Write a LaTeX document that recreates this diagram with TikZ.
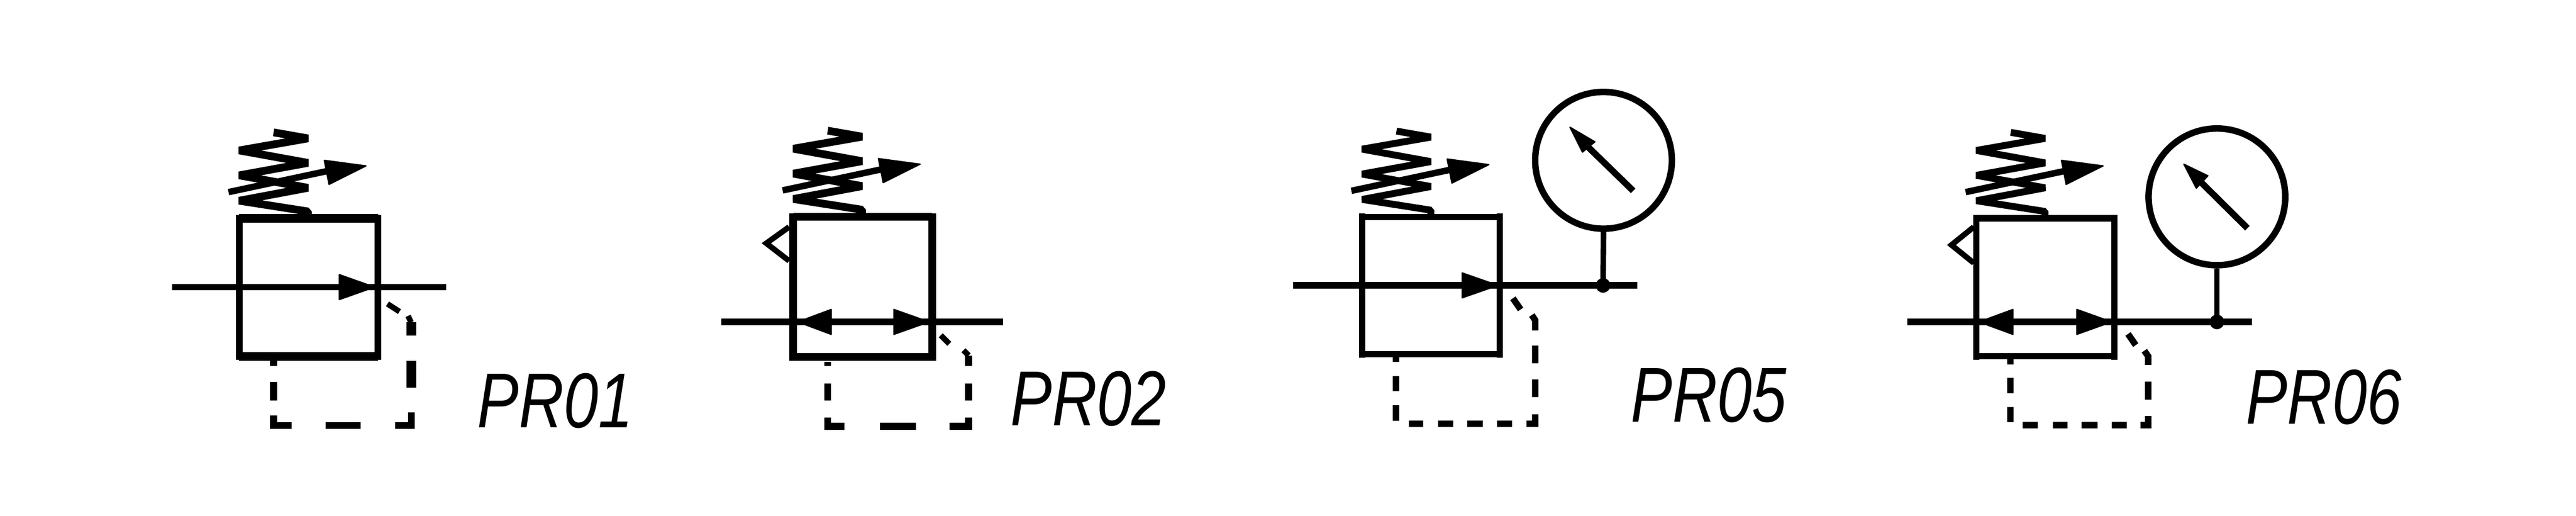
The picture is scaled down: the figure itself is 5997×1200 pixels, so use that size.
\documentclass[tikz,border=0pt]{standalone}
\usepackage{fontspec}
\setmainfont{Liberation Sans}
\usepackage{xcolor}
\newcommand{\valve}[6]{\draw[line width=#5] (#1,#2-8)--(#1,#4+8);\draw[line width=#5] (#3,#2-8)--(#3,#4+8);\draw[line width=#6] (#1,#2)--(#3,#2);\draw[line width=#6] (#1,#4)--(#3,#4);}
\newcommand{\sprg}[3]{\begin{scope}[shift={(#1,#2)}]
\draw[line width=#3,line join=bevel] (80,-200)--(160,-186)--(0,-158)--(160,-129)--(0,-100)--(160,-71)--(0,-41)--(160,-16)--(160,0);
\draw[line width=0.15cm] (-25,-61)--(205,-110);
\fill[hd] (295,-122)--(198,-135)--(209,-79)--cycle;
\end{scope}}
\newcommand{\tip}[3]{\fill[hd] (#1,#3)--(#2,#3-29)--(#2,#3+29)--cycle;}
\tikzset{
  hd/.style={draw=black,line width=0.03cm,line join=round},
  pipe/.style={line width=0.15cm},
  dline/.style={line width=0.16cm,line join=miter},
  dthin/.style={line width=0.15cm,line join=miter},
  gauge/.style={circle,draw,line width=0.15cm,minimum size=3.18cm,inner sep=0pt},
  lbl/.style={anchor=base west,inner sep=0pt,xscale=0.8,font=\fontsize{51.5}{60}\selectfont\itshape}
}

\begin{document}
\begin{tikzpicture}[x=0.01cm,y=-0.01cm]
\useasboundingbox (0,0) rectangle (5997,1200);

% PR01
\valve{557}{508}{880}{829}{0.16cm}{0.2cm}
\sprg{557}{508}{0.18cm}
\coordinate (inA) at (400,668);
\coordinate (outA) at (1039,668);
\draw[pipe] (inA)--(outA);
\tip{872}{790}{668}
\draw[dline] (637,837)--(637,852) (637,889)--(637,932) (637,967)--(637,990)--(679,990) (758,990)--(840,990) (920,990)--(958,990)--(958,960);
\draw[line width=0.23cm] (958,902)--(958,839) (958,781)--(958,750);
\draw[line width=0.13cm] (957,750)--(950,735) (902,707)--(930,725);
\node[lbl] (lblA) at (1111,995) {PR01};

% PR02
\valve{1847}{504}{2170}{831}{0.18cm}{0.18cm}
\sprg{1847}{504}{0.18cm}
\coordinate (inB) at (1679,749);
\coordinate (outB) at (2335,749);
\draw[pipe] (inB)--(outB);
\tip{1857}{1935}{749}
\tip{2163}{2081}{749}
\draw[line width=0.13cm] (1837,528)--(1784,566)--(1837,607);
\draw[dline] (1927,842)--(1927,851) (1927,892)--(1927,932) (1927,971)--(1927,992)--(1966,992) (2048,992)--(2132,992) (2211,992)--(2255,992)--(2255,971) (2255,932)--(2255,892) (2255,851)--(2255,827);
\draw[line width=0.13cm] (2255,827)--(2243,815) (2190,780)--(2210,800);
\node[lbl] (lblB) at (2352,990) {PR02};

% PR05
\valve{3171}{505}{3491}{824}{0.14cm}{0.15cm}
\sprg{3171}{505}{0.16cm}
\coordinate (inC) at (3010,664);
\coordinate (outC) at (3812,664);
\coordinate (jC) at (3732,664);
\draw[pipe] (inC)--(outC);
\tip{3487}{3404}{664}
\node[gauge] (gC) at (3733,373) {};
\draw[line width=0.13cm] (gC.south)--(jC);
\fill (jC) circle (17);
\draw[pipe] (3802,444)--(3695,340);
\fill[hd] (3655,296)--(3713,330)--(3684,354)--cycle;
\draw[dthin] (3250,831)--(3250,842) (3250,875)--(3250,910) (3250,943)--(3250,979) (3280,986)--(3313,986) (3348,986)--(3383,986) (3416,986)--(3452,986) (3485,986)--(3520,986) (3554,986)--(3574,986)--(3574,964) (3574,924)--(3574,883) (3574,845)--(3574,804) (3574,769)--(3574,745)--(3566,733) (3522,694)--(3540,720);
\node[lbl] (lblC) at (3796,982) {PR05};

% PR06
\valve{4601}{508}{4922}{829}{0.14cm}{0.15cm}
\sprg{4601}{508}{0.16cm}
\coordinate (inD) at (4440,749);
\coordinate (outD) at (5242,749);
\coordinate (jD) at (5161,749);
\draw[pipe] (inD)--(outD);
\tip{4607}{4686}{749}
\tip{4916}{4835}{749}
\draw[line width=0.13cm] (4595,528)--(4543,570)--(4595,612);
\node[gauge] (gD) at (5161,458) {};
\draw[line width=0.13cm] (gD.south)--(jD);
\fill (jD) circle (17);
\draw[pipe] (5232,531)--(5125,425);
\fill[hd] (5084,382)--(5140,409)--(5113,438)--cycle;
\draw[dthin] (4680,834)--(4680,848) (4680,879)--(4680,915) (4680,947)--(4680,982) (4709,989)--(4744,989) (4779,989)--(4813,989) (4846,989)--(4883,989) (4916,989)--(4951,989) (4983,989)--(5001,989)--(5001,968) (5001,930)--(5001,888) (5001,849)--(5001,829)--(4992,816) (4954,777)--(4972,803);
\node[lbl] (lblD) at (5228,986) {PR06};

\end{tikzpicture}
\end{document}
